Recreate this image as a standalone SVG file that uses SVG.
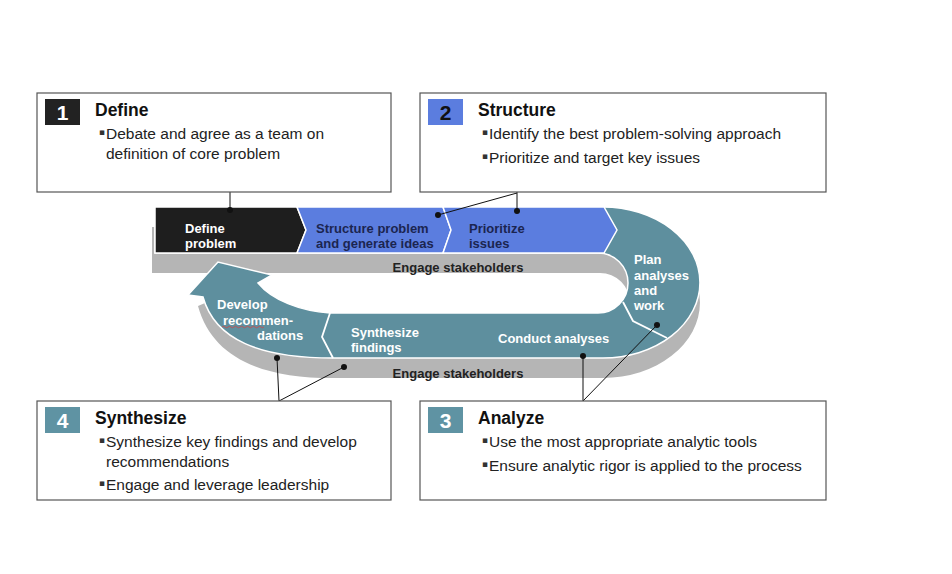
<svg xmlns="http://www.w3.org/2000/svg" width="952" height="574" viewBox="0 0 952 574">
<style>
text{font-family:"Liberation Sans",Arial,sans-serif}
.box{fill:#fff;stroke:#555;stroke-width:1.2}
.title{font-size:17.5px;font-weight:bold;fill:#111}
.body{font-size:15.5px;fill:#222}
.bul{font-family:"DejaVu Sans",sans-serif;font-size:9px;fill:#333}
.num{font-size:21px;font-weight:bold;text-anchor:middle}
.lbl{font-size:13px;font-weight:bold}
.w{fill:#fff}
.nv{fill:#1b2550}
.dk{fill:#222}
.sep{fill:none;stroke:#fff;stroke-width:1.8}
.con{fill:none;stroke:#111;stroke-width:1}
.dot{fill:#111}
</style>

<g id="ribbon">
  <path id="shadow" fill="#b5b5b5" d="M152,227 L603,227 A97,75.5 0 0 1 603,378 L333,378 C258,378 212,356 198,306 L212,300 L258,303 C275,322 300,331 330,333 L600,333 A30,30 0 0 0 600,273 L152,273 Z"/>
  <path id="face" fill="#5e8f9e" stroke="#fff" stroke-width="1.5" d="M155,207 L603,207 A97,75.5 0 0 1 603,358 L333,358 C260,358 215,340 203,297 L188,295 L218,262 L272,275 L258,283 C272,300 300,311 330,313 L598,313 A30,30 0 0 0 598,253 L155,253 Z"/>
  <path id="seg-define" fill="#1e1e1e" stroke="#fff" stroke-width="1.5" d="M155,207 L297,207 L306,230 L297,253 L155,253 Z"/>
  <path id="seg-structure" fill="#5b7ddf" stroke="#fff" stroke-width="1.5" d="M297,207 L443,207 L451,230 L443,253 L297,253 L306,230 Z"/>
  <path id="seg-prioritize" fill="#5b7ddf" stroke="#fff" stroke-width="1.5" d="M443,207 L604,207 L617,230 L604,253 L443,253 L451,230 Z"/>
  <polyline class="sep" points="623,302 633,321 667,338"/>
  <polyline class="sep" points="330,313 322,337 333,358"/>
  <path d="M222,327 q1.5,-1.5 3,0 t3,0 t3,0 t3,0 t3,0 t3,0 t3,0 t3,0 t3,0 t3,0 t3,0 t3,0 t3,0 t3,0" fill="none" stroke="#d04848" stroke-width="0.8"/>
</g>

<g id="ribbon-labels">
  <text class="lbl w" x="185" y="233">Define</text>
  <text class="lbl w" x="185" y="248">problem</text>
  <text class="lbl nv" x="316" y="233">Structure problem</text>
  <text class="lbl nv" x="316" y="248">and generate ideas</text>
  <text class="lbl nv" x="469" y="233">Prioritize</text>
  <text class="lbl nv" x="469" y="248">issues</text>
  <text class="lbl dk" x="458" y="272" text-anchor="middle">Engage stakeholders</text>
  <text class="lbl w" x="634" y="264">Plan</text>
  <text class="lbl w" x="634" y="280">analyses</text>
  <text class="lbl w" x="634" y="295">and</text>
  <text class="lbl w" x="634" y="310">work</text>
  <text class="lbl w" x="498" y="343">Conduct analyses</text>
  <text class="lbl w" x="351" y="337">Synthesize</text>
  <text class="lbl w" x="351" y="352">findings</text>
  <text class="lbl w" x="217" y="309">Develop</text>
  <text class="lbl w" x="223" y="325">recommen-</text>
  <text class="lbl w" x="257" y="340">dations</text>
  <text class="lbl dk" x="458" y="378" text-anchor="middle">Engage stakeholders</text>
</g>

<g id="connectors">
  <line class="con" x1="230" y1="192" x2="230" y2="210"/>
  <circle class="dot" cx="230" cy="210" r="3"/>
  <line class="con" x1="517" y1="192" x2="517" y2="211"/>
  <circle class="dot" cx="517" cy="211" r="3"/>
  <line class="con" x1="517" y1="193" x2="438" y2="215"/>
  <circle class="dot" cx="438" cy="215" r="3"/>
  <line class="con" x1="279" y1="401" x2="277" y2="358"/>
  <circle class="dot" cx="277" cy="358" r="3"/>
  <line class="con" x1="279" y1="401" x2="344" y2="367"/>
  <circle class="dot" cx="344" cy="367" r="3"/>
  <line class="con" x1="583" y1="401" x2="583" y2="356"/>
  <circle class="dot" cx="583" cy="356" r="3"/>
  <line class="con" x1="583" y1="401" x2="657" y2="325"/>
  <circle class="dot" cx="657" cy="325" r="3"/>
</g>

<g id="box-define">
  <rect class="box" x="37" y="93" width="354" height="99"/>
  <rect x="45" y="99" width="35" height="26" fill="#222"/>
  <text class="num" x="62.5" y="119.5" fill="#fff">1</text>
  <text class="title" x="95" y="116">Define</text>
  <text class="bul" x="99" y="135">▪</text>
  <text class="body" x="106" y="139">Debate and agree as a team on</text>
  <text class="body" x="106" y="159">definition of core problem</text>
</g>

<g id="box-structure">
  <rect class="box" x="420" y="93" width="406" height="99"/>
  <rect x="428" y="99" width="35" height="26" fill="#5b7ddf"/>
  <text class="num" x="445.5" y="119.5" fill="#111">2</text>
  <text class="title" x="478" y="116">Structure</text>
  <text class="bul" x="482" y="135">▪</text>
  <text class="body" x="489" y="139">Identify the best problem-solving approach</text>
  <text class="bul" x="482" y="159">▪</text>
  <text class="body" x="489" y="163">Prioritize and target key issues</text>
</g>

<g id="box-synthesize">
  <rect class="box" x="37" y="401" width="354" height="99"/>
  <rect x="45" y="407" width="35" height="26" fill="#5f93a3"/>
  <text class="num" x="62.5" y="427.5" fill="#fff">4</text>
  <text class="title" x="95" y="424">Synthesize</text>
  <text class="bul" x="99" y="443">▪</text>
  <text class="body" x="106" y="447">Synthesize key findings and develop</text>
  <text class="body" x="106" y="467">recommendations</text>
  <text class="bul" x="99" y="486">▪</text>
  <text class="body" x="106" y="490">Engage and leverage leadership</text>
</g>

<g id="box-analyze">
  <rect class="box" x="420" y="401" width="406" height="99"/>
  <rect x="428" y="407" width="35" height="26" fill="#5f93a3"/>
  <text class="num" x="445.5" y="427.5" fill="#fff">3</text>
  <text class="title" x="478" y="424">Analyze</text>
  <text class="bul" x="482" y="443">▪</text>
  <text class="body" x="489" y="447">Use the most appropriate analytic tools</text>
  <text class="bul" x="482" y="467">▪</text>
  <text class="body" x="489" y="471">Ensure analytic rigor is applied to the process</text>
</g>
</svg>
